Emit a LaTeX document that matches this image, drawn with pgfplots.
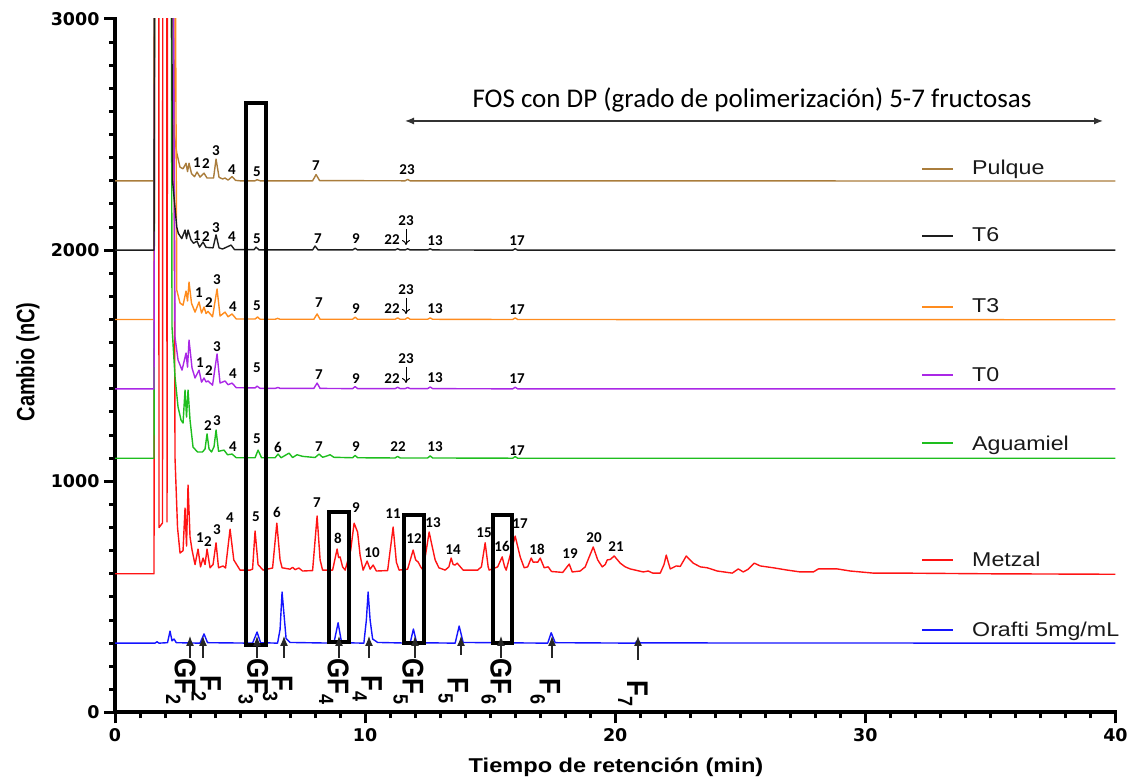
\documentclass[border=0pt]{standalone}
\usepackage{fontspec}
\setmainfont{Liberation Sans}
\newfontfamily\dejavu{DejaVu Sans}
\newfontfamily\carlito{Carlito}
\usepackage{graphicx}
\usepackage{pgfplots}
\pgfplotsset{compat=1.18}
\usetikzlibrary{arrows.meta}

\definecolor{cpulque}{RGB}{170,125,60}
\definecolor{ctsix}{RGB}{30,30,30}
\definecolor{ctthree}{RGB}{255,140,30}
\definecolor{ctzero}{RGB}{170,40,230}
\definecolor{cagua}{RGB}{30,190,30}
\definecolor{cmetz}{RGB}{255,20,20}
\definecolor{coraf}{RGB}{20,20,255}

\newcommand{\pklab}[1]{{\carlito\bfseries\fontsize{15bp}{15bp}\selectfont #1}}
\newcommand{\lgdtxt}[1]{{\fontsize{20bp}{20bp}\selectfont\scalebox{1.16}[1]{#1}}}
\newcommand{\gflab}[2]{{\bfseries\fontsize{26bp}{26bp}\selectfont\scalebox{1}[1.15]{#1\raisebox{-0.3em}{\fontsize{18bp}{18bp}\selectfont #2}}}}

\begin{document}
\begin{tikzpicture}
\useasboundingbox (0,0) rectangle (1130bp,781bp);
\begin{axis}[
  at={(115bp,68.5bp)}, anchor=south west,
  scale only axis, width=1000.5bp, height=693.5bp,
  xmin=0, xmax=40, ymin=0, ymax=3000,
  axis lines*=left,
  axis line style={line width=4bp, black, line cap=rect},
  xtick={0,10,20,30,40}, ytick={0,1000,2000,3000},
  minor x tick num=9, minor y tick num=9,
  tick align=outside,
  major tick length=11bp, minor tick length=6bp,
  tick style={line width=3bp, black},
  /pgf/number format/assume math mode=true,
  /pgf/number format/1000 sep={},
  scaled y ticks=false,
  ticklabel style={font=\dejavu\bfseries\fontsize{17.5bp}{17.5bp}\selectfont},
  xticklabel style={yshift=-1bp},
  yticklabel style={xshift=-1bp},
  every axis plot/.append style={line width=1.4bp, line join=round},
]
% Metzal
\addplot[cmetz] coordinates {(0,600)(1.56,600)(1.6,6000)(1.74,6000)(1.76,800)(1.9,820)(1.92,6000)(2.06,6000)(2.08,824)(2.12,6000)(2.26,6000)(2.4,1100)(2.5,800)(2.6,690)(2.72,700)(2.8,884)(2.86,720)(2.92,984)(3.0,760)(3.08,703)(3.2,640)(3.32,707)(3.42,630)(3.52,668)(3.6,640)(3.68,707)(3.8,626)(3.92,640)(4.04,734)(4.14,626)(4.32,634)(4.42,625)(4.6,793)(4.75,660)(5.0,616)(5.4,616)(5.5,620)(5.6,785)(5.72,640)(5.92,616)(6.3,625)(6.47,819)(6.6,660)(6.68,626)(7.0,620)(7.1,628)(7.2,618)(7.35,625)(7.5,612)(7.9,614)(8.08,850)(8.2,660)(8.3,616)(8.7,616)(8.88,707)(8.94,670)(9.0,673)(9.1,630)(9.2,616)(9.42,700)(9.56,819)(9.7,780)(9.8,680)(9.92,616)(10.08,655)(10.2,620)(10.32,638)(10.45,612)(10.9,614)(11.12,802)(11.25,650)(11.36,616)(11.7,620)(11.92,703)(12.02,660)(12.12,651)(12.22,630)(12.32,616)(12.56,781)(12.65,734)(12.8,660)(12.95,626)(13.2,616)(13.35,630)(13.44,668)(13.52,640)(13.6,638)(13.68,646)(13.92,616)(14.5,616)(14.65,630)(14.8,734)(14.92,630)(14.96,616)(15.3,630)(15.48,673)(15.58,630)(15.64,616)(15.8,680)(16.0,763)(16.2,673)(16.36,626)(16.5,630)(16.64,668)(16.72,650)(16.8,651)(16.9,650)(17.0,668)(17.16,626)(17.32,630)(17.45,610)(17.9,606)(18.16,642)(18.28,608)(18.6,612)(18.8,630)(19.12,716)(19.3,660)(19.48,630)(19.6,640)(19.68,660)(19.8,662)(19.96,677)(20.2,646)(20.4,630)(20.6,621)(20.8,616)(21.12,608)(21.32,612)(21.5,603)(21.8,603)(21.95,640)(22.04,681)(22.12,650)(22.2,621)(22.44,634)(22.6,632)(22.84,677)(23.12,646)(23.4,630)(23.68,626)(24.08,612)(24.68,603)(24.92,621)(25.12,608)(25.32,620)(25.56,646)(25.8,634)(26.32,626)(26.88,616)(27.4,608)(27.92,608)(28.12,621)(28.88,621)(29.4,612)(30.32,603)(31.4,603)(35,600)(40,598)};
% Orafti
\addplot[coraf] coordinates {(0,300)(1.6,300)(1.68,306)(1.76,300)(2.1,302)(2.2,352)(2.28,310)(2.36,318)(2.45,302)(3.4,300)(3.56,340)(3.7,302)(5.5,300)(5.68,348)(5.82,302)(6.5,300)(6.6,360)(6.68,521)(6.76,420)(6.84,320)(7.0,303)(8.75,300)(8.92,388)(9.06,302)(9.95,300)(10.05,400)(10.12,521)(10.2,400)(10.3,318)(10.5,303)(11.8,300)(11.93,361)(12.06,302)(13.6,300)(13.76,374)(13.92,303)(17.3,300)(17.44,345)(17.6,302)(20.8,300)(20.9,313)(21.0,301)(40,300)};
% Aguamiel
\addplot[cagua] coordinates {(0,1100)(1.56,1100)(1.62,6000)(2.2,6000)(2.28,1668)(2.4,1451)(2.52,1322)(2.64,1265)(2.72,1252)(2.8,1395)(2.86,1278)(2.92,1395)(3.0,1265)(3.12,1148)(3.3,1127)(3.5,1127)(3.6,1140)(3.68,1205)(3.76,1140)(3.86,1127)(3.96,1150)(4.04,1222)(4.14,1130)(4.36,1135)(4.5,1115)(4.68,1118)(4.85,1102)(5.6,1102)(5.72,1135)(5.86,1102)(6.4,1102)(6.52,1118)(6.64,1102)(6.96,1122)(7.1,1103)(7.28,1115)(7.5,1108)(8.0,1103)(8.16,1118)(8.3,1104)(8.48,1110)(8.6,1115)(8.75,1104)(9.5,1102)(9.6,1112)(9.7,1102)(11.2,1101)(11.3,1108)(11.4,1101)(12.5,1101)(12.6,1110)(12.7,1101)(15.9,1100)(16.0,1107)(16.1,1100)(40,1100)};
% Pulque
\addplot[cpulque] coordinates {(0,2300)(1.56,2300)(1.62,6000)(2.26,6000)(2.36,2506)(2.47,2420)(2.6,2359)(2.72,2352)(2.84,2376)(2.9,2340)(2.96,2376)(3.06,2331)(3.18,2318)(3.28,2338)(3.4,2316)(3.56,2333)(3.68,2312)(3.94,2312)(4.04,2394)(4.16,2315)(4.3,2308)(4.4,2312)(4.52,2303)(4.68,2318)(4.82,2302)(5.0,2300)(5.6,2300)(5.68,2305)(5.8,2300)(7.9,2300)(8.04,2327)(8.18,2301)(11.6,2300)(11.7,2306)(11.8,2300)(40,2299)};
% T3
\addplot[ctthree] coordinates {(0,1700)(1.56,1700)(1.62,6000)(2.3,6000)(2.47,1827)(2.6,1771)(2.72,1762)(2.84,1823)(2.9,1780)(2.96,1862)(3.06,1770)(3.2,1732)(3.36,1776)(3.46,1728)(3.56,1754)(3.64,1726)(3.72,1735)(3.9,1712)(4.08,1832)(4.2,1715)(4.4,1732)(4.52,1712)(4.68,1724)(4.85,1702)(5.6,1702)(5.7,1711)(5.8,1701)(6.4,1701)(6.5,1705)(6.6,1701)(7.95,1701)(8.08,1724)(8.2,1701)(9.5,1701)(9.6,1710)(9.7,1701)(11.2,1701)(11.3,1707)(11.4,1701)(11.6,1701)(11.7,1708)(11.8,1701)(12.5,1701)(12.6,1707)(12.7,1701)(15.9,1700)(16.0,1707)(16.1,1700)(40,1699)};
% T0
\addplot[ctzero] coordinates {(0,1400)(1.56,1400)(1.62,6000)(2.2,6000)(2.4,1623)(2.52,1525)(2.68,1481)(2.84,1555)(2.9,1494)(2.96,1611)(3.08,1490)(3.2,1447)(3.36,1481)(3.46,1429)(3.56,1447)(3.64,1430)(3.72,1434)(3.9,1416)(4.08,1551)(4.2,1425)(4.4,1434)(4.52,1418)(4.68,1425)(4.85,1405)(5.6,1404)(5.68,1412)(5.8,1402)(6.4,1402)(6.52,1406)(6.6,1402)(7.95,1402)(8.08,1425)(8.2,1402)(9.5,1401)(9.6,1410)(9.7,1401)(11.2,1401)(11.3,1407)(11.4,1401)(11.6,1401)(11.7,1406)(11.8,1401)(12.5,1401)(12.6,1408)(12.7,1401)(15.9,1400)(16.0,1407)(16.1,1400)(40,1400)};
% T6
\addplot[ctsix] coordinates {(0,2000)(1.56,2000)(1.62,6000)(2.16,6000)(2.3,2300)(2.47,2100)(2.53,2073)(2.67,2050)(2.8,2087)(2.86,2050)(2.92,2087)(3.04,2044)(3.14,2030)(3.28,2039)(3.38,2013)(3.52,2035)(3.64,2012)(3.92,2010)(4.04,2066)(4.16,2010)(4.3,2005)(4.64,2022)(4.78,2002)(5.56,2002)(5.64,2013)(5.76,2001)(7.9,2001)(8.0,2018)(8.12,2001)(9.5,2001)(9.6,2008)(9.7,2001)(11.2,2001)(11.3,2006)(11.4,2001)(11.6,2001)(11.7,2006)(11.8,2001)(12.5,2001)(12.6,2006)(12.7,2001)(15.9,2000)(16.0,2006)(16.1,2000)(40,2000)};
\end{axis}

\begin{scope}[shift={(0bp,781bp)}, x=1bp, y=-1bp]
% boxes
\draw[line width=4bp, black] (246,103) rectangle (266,645);
\draw[line width=4bp, black] (329,512) rectangle (349,642);
\draw[line width=4bp, black] (404,515) rectangle (424,643);
\draw[line width=4bp, black] (493,515) rectangle (512,643);
% FOS arrow and text
\draw[line width=1.2bp, black!80, {Latex[length=9bp,width=7bp]}-{Latex[length=9bp,width=7bp]}] (405,121) -- (1103,121);
\node at (752,100) {\carlito\fontsize{27bp}{27bp}\selectfont FOS con DP (grado de polimerización) 5-7 fructosas};
% axis labels
\node at (616,767) {\bfseries\fontsize{20bp}{20bp}\selectfont\scalebox{1.18}[1]{Tiempo de retención (min)}};
\node[rotate=90] at (28,362) {\bfseries\fontsize{20bp}{20bp}\selectfont\scalebox{1}[1.25]{Cambio (nC)}};
% legend
\foreach \yl/\yb/\c/\t in {169/175/cpulque/Pulque, 236/242/ctsix/T6, 307/313/ctthree/T3, 375/382/ctzero/T0, 443/451/cagua/Aguamiel, 560/567/cmetz/Metzal, 630/637/coraf/Orafti 5mg\slash mL}{
  \draw[\c, line width=1.4bp] (922,\yl) -- (953,\yl);
  \node[anchor=base west, inner sep=0pt, text=black!90] at (972,\yb) {\lgdtxt{\t}};
}
% standard arrows
\foreach \xa/\yb in {190/658,203/658,257/658,284/658,339/658,369/658,415/658,461/655,501/658,552/658,638/660}{
  \draw[line width=1.2bp, black!85, -{Latex[length=10bp,width=8bp]}] (\xa,\yb) -- (\xa,636);
}
% GF / F labels
\foreach \xb/\yb/\a/\b in {175/658/GF/2, 247.5/658/GF/3, 328/658/GF/4, 402.5/658/GF/5, 490.5/658/GF/6}{
  \node[rotate=-90, anchor=base west, inner sep=0pt] at (\xb,\yb) {\gflab{\a}{\b}};
}
\foreach \xb/\yb/\a/\b in {200.5/675/F/2, 272/675/F/3, 361.5/675/F/4, 447.5/677/F/5, 539.5/678/F/6, 627/680/F/7}{
  \node[rotate=-90, anchor=base west, inner sep=0pt] at (\xb,\yb) {\gflab{\a}{\b}};
}
% 23 arrows
\foreach \ya in {229,298,367}{
  \draw[line width=1bp, black, -{To[length=5bp,width=8bp]}] (406,\ya) -- (406,\ya+16);
}
% peak labels
\foreach \x/\y/\t in {197/163/1,206/164/2,216/151/3,232/170/4,257/172/5,316/166/7,407/170/23,
 197/236/1,206/237/2,216/228/3,232/237/4,257/239/5,318/239/7,356/239/9,392/240/22,406/221/23,435/241/13,517/241/17,
 199/293/1,209/303/2,217/280/3,233/307/4,257/306/5,319/303/7,356/309/9,392/309/22,406/290/23,435/309/13,517/310/17,
 200/363/1,209/371/2,217/347/3,233/374/4,257/368/5,319/375/7,356/379/9,392/379/22,406/359/23,435/378/13,517/379/17,
 208/426/2,217/421/3,233/447/4,257/439/5,278/447/6,319/447/7,356/447/9,398/447/22,435/447/13,517/451/17,
 200/538/1,208/542/2,217/530/3,230/518/4,256/517/5,277/512/6,317/503/7,338/538/8,356/508/9,372/553/10,393/514/11,414/539/12,433/523/13,453/550/14,484/533/15,502/546/16,520/524/17,537/549/18,570/554/19,594/538/20,616/547/21}{
  \node[inner sep=0pt] at (\x,\y) {\pklab{\t}};
}
\end{scope}
\end{tikzpicture}
\end{document}
